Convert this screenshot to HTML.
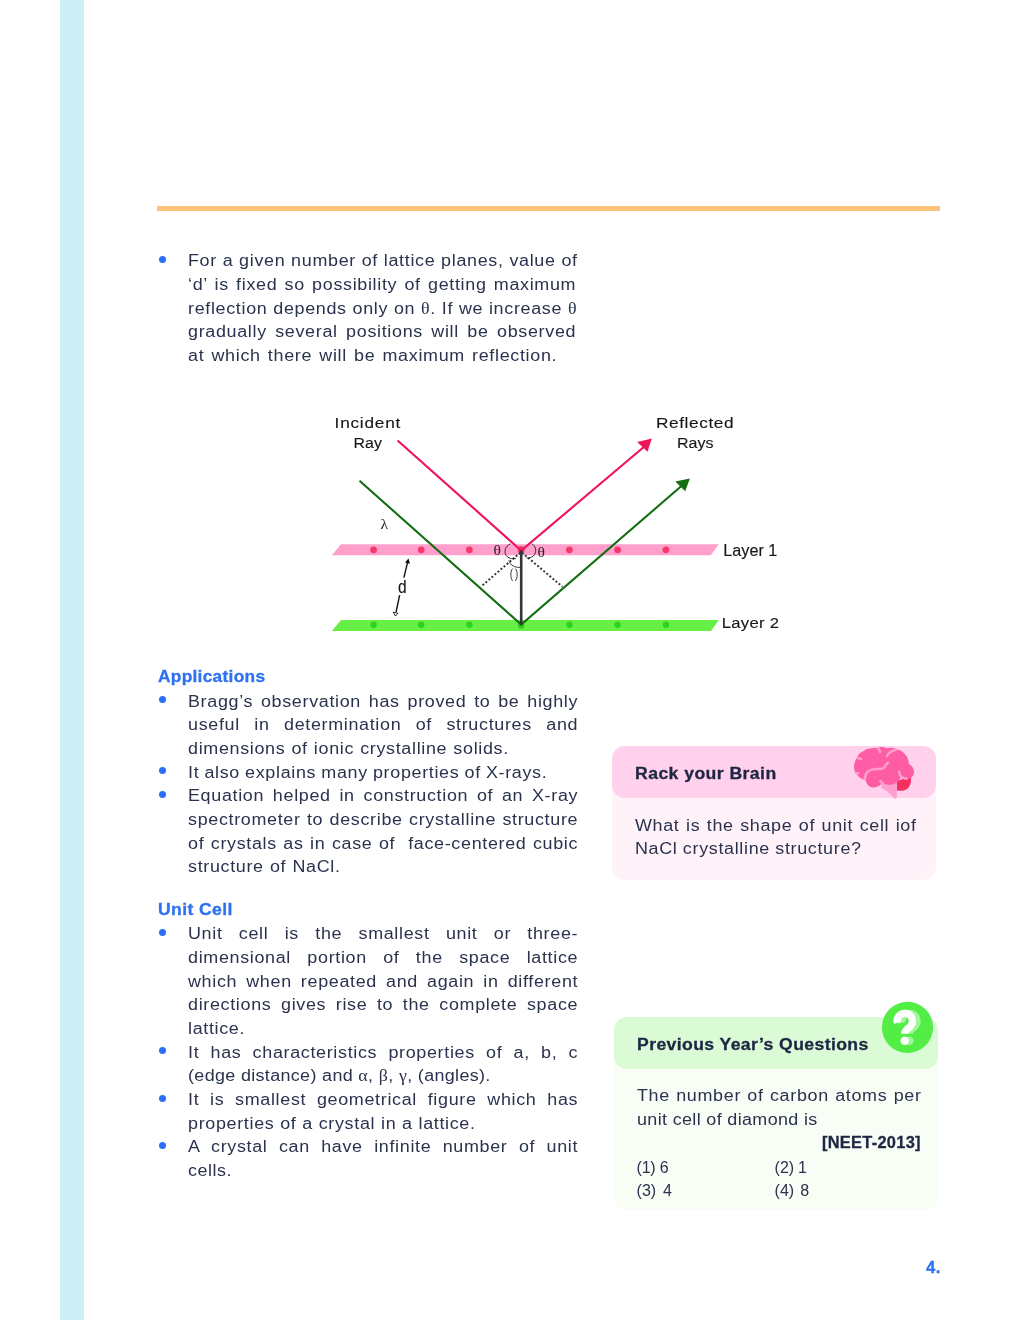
<!DOCTYPE html>
<html><head><meta charset="utf-8"><title>page</title>
<style>
html,body{margin:0;padding:0;background:#fff;}
body{width:1020px;height:1320px;position:relative;overflow:hidden;font-family:"Liberation Sans",sans-serif;}
.l{position:absolute;white-space:pre;line-height:24px;transform-origin:0 50%;}
#tx{position:absolute;left:0;top:0;width:1020px;height:1320px;will-change:transform;}
.g{font-family:"Liberation Serif",serif;}
.b{position:absolute;width:7px;height:7px;border-radius:50%;background:#2a6ff5;}
.strip{position:absolute;left:60px;top:0;width:24px;height:1320px;background:#cdeff6;}
.rule{position:absolute;left:157px;top:206px;width:783px;height:5px;background:#ffc27a;}
.pb{position:absolute;left:612px;top:746px;width:324px;height:134px;border-radius:13px;background:#fff2f9;}
.ph{position:absolute;left:612px;top:746px;width:324px;height:51.5px;border-radius:13px;background:#ffd1ec;}
.gb{position:absolute;left:614px;top:1017px;width:324px;height:192.5px;border-radius:13px;background:#f8fef6;}
  .gh{position:absolute;left:614px;top:1017px;width:324px;height:51.5px;border-radius:13px;background:#dbfbd6;}
svg{position:absolute;overflow:visible;will-change:transform;}
</style></head><body>
<div class="strip"></div><div class="rule"></div>
<div class="pb"></div><div class="ph"></div>
<div class="gb"></div><div class="gh"></div>
<svg id="dia" style="left:0;top:0" width="1020" height="1320" viewBox="0 0 1020 1320">
<polygon points="341,544.2 718.8,544.2 710.8,555.3 331.8,555.3" fill="#ff9fcb"/>
<polygon points="341,620 718.8,620 711,630.9 331.8,630.9" fill="#67ef45"/>
<g fill="#f6386f">
<circle cx="373.6" cy="549.8" r="3.4"/><circle cx="421.2" cy="549.8" r="3.4"/><circle cx="469.4" cy="549.8" r="3.4"/><circle cx="521.2" cy="549.6" r="3.6"/>
<circle cx="569.4" cy="549.8" r="3.4"/><circle cx="617.6" cy="549.8" r="3.4"/><circle cx="665.9" cy="549.8" r="3.4"/>
</g>
<g fill="#2dd31a">
<circle cx="373.6" cy="624.8" r="3.2"/><circle cx="421.2" cy="624.8" r="3.2"/><circle cx="469.4" cy="624.8" r="3.2"/><circle cx="521.2" cy="625.5" r="3.2"/>
<circle cx="569.4" cy="624.8" r="3.2"/><circle cx="617.6" cy="624.8" r="3.2"/><circle cx="665.9" cy="624.8" r="3.2"/>
</g>
<g stroke="#3a3a3a" stroke-width="2" stroke-dasharray="2 2" fill="none">
<line x1="520.3" y1="552.6" x2="480.8" y2="586.8"/><line x1="522" y1="552.6" x2="562.5" y2="586.8"/>
</g>
<polyline points="397.6,440.5 521.2,550.6 645,446" fill="none" stroke="#f0145a" stroke-width="2.2" stroke-linejoin="miter"/>
<polygon points="651.8,438.4 637.2,441.9 647.5,451.8" fill="#f0145a"/>
<polyline points="359.5,480.7 521.2,624.5 682,485.5" fill="none" stroke="#156f12" stroke-width="2.2"/>
<polygon points="689.9,478.4 675.3,481.6 685.2,491.3" fill="#156f12"/>
<line x1="521.2" y1="551.6" x2="521.2" y2="625" stroke="#33363a" stroke-width="2.6"/>
<circle cx="521.2" cy="552" r="1.8" fill="#33363a"/>
<g fill="none" stroke="#222" stroke-width="0.9">
<path d="M510.6,543.8 C504.5,546 503.5,553 507,556.5 C509.5,558.8 513,559 515.9,558.5"/>
<path d="M531.8,543.8 C536.5,546.5 536.8,552.5 533.5,555.8 C531.5,557.6 528.8,558.2 526.5,557.9"/>
<path d="M508.8,560.6 C510.5,565.5 515,567.8 520.3,567.3"/>
<path d="M512.6,568.6 C510.2,571.5 510.2,578 512.6,580.9"/><path d="M515.4,568.6 C517.8,571.5 517.8,578 515.4,580.9"/>

</g>
<g stroke="#111" stroke-width="1.4" fill="none"><line x1="403.9" y1="577.6" x2="408" y2="560.6"/><line x1="399.6" y1="595.2" x2="396.1" y2="612"/></g>
<polygon points="408.5,558.6 405,562.6 410,563.8" fill="#111"/>
<polygon points="395.5,616 393.2,612.2 397.9,613.2" fill="#fff" stroke="#111" stroke-width="0.9"/>
<g font-family="Liberation Serif, serif" fill="#222">
<text x="493.6" y="555.2" font-size="15.5">θ</text>
<text x="537.6" y="557" font-size="15.5">θ</text>

<text x="380.4" y="528.8" font-size="15.5">λ</text>
</g>
<g font-family="Liberation Sans, sans-serif" fill="#161616" stroke="#161616"><text transform="translate(334.6 428.0) scale(1.1200 1)" font-size="15.4" textLength="58.66" lengthAdjust="spacing" stroke-width="0.12">Incident</text>
<text transform="translate(353.6 447.9) scale(1.0338 1)" font-size="15.4" textLength="27.37" lengthAdjust="spacing" stroke-width="0.12">Ray</text>
<text transform="translate(656.0 428.0) scale(1.1200 1)" font-size="15.4" textLength="69.29" lengthAdjust="spacing" stroke-width="0.12">Reflected</text>
<text transform="translate(677.0 447.9) scale(1.0377 1)" font-size="15.4" textLength="35.08" lengthAdjust="spacing" stroke-width="0.12">Rays</text>
<text transform="translate(723.3 555.8) scale(1.0246 1)" font-size="15.8" textLength="52.70" lengthAdjust="spacing" stroke-width="0.15">Layer 1</text>
<text transform="translate(721.8 627.9) scale(1.1200 1)" font-size="14.9" textLength="51.07" lengthAdjust="spacing" stroke-width="0.1">Layer 2</text>
<text transform="translate(397.9 592.8) scale(0.8695 1)" font-size="17.8" textLength="9.89" lengthAdjust="spacing" stroke-width="0.15">d</text>
</g>
</svg>

<svg id="brain" style="left:840px;top:735px" width="90" height="75" viewBox="0 0 1020 850">
<path d="M645,520 L800,470 C815,520 800,590 745,620 C715,635 680,635 645,630 Z" fill="#f5305f"/>
<path d="M470,540 L645,520 L645,705 C640,722 622,726 610,715 L530,635 L470,600 Z" fill="#ff9fcf"/>
<path d="M200,250 C205,215 240,190 270,180 C295,160 330,148 365,150 C385,142 410,142 428,150 C445,135 490,128 525,150 C550,142 600,140 640,162 C670,165 705,180 728,210 C760,235 780,280 780,328 C815,345 845,385 838,430 C832,470 800,497 750,500 C725,500 702,492 688,480 C676,520 640,555 590,562 C550,568 505,562 472,548 C452,585 400,602 358,592 C320,582 294,550 292,510 C255,505 215,482 192,450 C170,425 155,385 160,345 C165,305 180,270 200,250 Z" fill="#ff5ca6"/>
<g fill="none" stroke="#ff9dcb" stroke-width="29" stroke-linecap="round">
<path d="M280,498 C285,430 330,388 400,385 C440,383 480,392 500,370 C520,350 515,325 545,315"/>
<path d="M432,152 C445,165 452,180 455,192"/>
<path d="M532,240 C545,205 585,180 635,168"/>
<path d="M670,418 C672,455 700,490 755,495"/>
<path d="M458,522 C465,535 478,545 490,550"/>
<path d="M208,266 L238,270"/>
<path d="M182,430 L208,436"/>
</g>
</svg>

<svg id="qm" style="left:860px;top:990px" width="90" height="75" viewBox="0 0 90 75">
<circle cx="47.5" cy="37.4" r="25.6" fill="#52ee45"/>
<g transform="translate(4.6,0)" stroke="#a2f59a" fill="#a2f59a">
<path d="M37.3,32.9 A7.7,7.7 0 1 1 50.4,36.3 C47.6,39 44.7,40.2 44.7,43.8" fill="none" stroke-width="7.2"/>
<circle cx="44.7" cy="50.7" r="4.2" stroke="none"/>
</g>
<g stroke="#fff" fill="#fff">
<path d="M37.3,32.9 A7.7,7.7 0 1 1 50.4,36.3 C47.6,39 44.7,40.2 44.7,43.8" fill="none" stroke-width="7.2"/>
<circle cx="44.7" cy="50.7" r="4.2" stroke="none"/>
</g>
</svg>

<div id="tx">
<div class='l' style='left:188.0px;top:249.46px;font-size:16.0px;font-weight:normal;color:#2a324e;letter-spacing:0.6px;transform:scaleX(1.12);word-spacing:0.129px;'>For a given number of lattice planes, value of</div>
<div class='l' style='left:188.0px;top:273.16px;font-size:16.0px;font-weight:normal;color:#2a324e;letter-spacing:0.6px;transform:scaleX(1.12);word-spacing:1.445px;'>‘d’ is fixed so possibility of getting maximum</div>
<div class='l' style='left:188.0px;top:296.76px;font-size:16.0px;font-weight:normal;color:#2a324e;letter-spacing:0.6px;transform:scaleX(1.12);word-spacing:0.155px;'>reflection depends only on <span class='g'>θ</span>. If we increase <span class='g'>θ</span></div>
<div class='l' style='left:188.0px;top:320.46px;font-size:16.0px;font-weight:normal;color:#2a324e;letter-spacing:0.6px;transform:scaleX(1.12);word-spacing:2.491px;'>gradually several positions will be observed</div>
<div class='l' style='left:188.0px;top:344.06px;font-size:16.0px;font-weight:normal;color:#2a324e;letter-spacing:0.6px;transform:scaleX(1.12);word-spacing:1.384px;'>at which there will be maximum reflection.</div>
<div class='l' style='left:188.0px;top:689.66px;font-size:16.0px;font-weight:normal;color:#2a324e;letter-spacing:0.6px;transform:scaleX(1.12);word-spacing:1.923px;'>Bragg’s observation has proved to be highly</div>
<div class='l' style='left:188.0px;top:713.36px;font-size:16.0px;font-weight:normal;color:#2a324e;letter-spacing:0.6px;transform:scaleX(1.12);word-spacing:7.833px;'>useful in determination of structures and</div>
<div class='l' style='left:188.0px;top:736.96px;font-size:16.0px;font-weight:normal;color:#2a324e;letter-spacing:0.6px;transform:scaleX(1.12);word-spacing:0.408px;'>dimensions of ionic crystalline solids.</div>
<div class='l' style='left:188.0px;top:760.66px;font-size:16.0px;font-weight:normal;color:#2a324e;letter-spacing:0.6px;transform:scaleX(1.12);word-spacing:-0.475px;'>It also explains many properties of X-rays.</div>
<div class='l' style='left:188.0px;top:784.26px;font-size:16.0px;font-weight:normal;color:#2a324e;letter-spacing:0.6px;transform:scaleX(1.12);word-spacing:2.764px;'>Equation helped in construction of an X-ray</div>
<div class='l' style='left:188.0px;top:807.96px;font-size:16.0px;font-weight:normal;color:#2a324e;letter-spacing:0.6px;transform:scaleX(1.12);word-spacing:0.604px;'>spectrometer to describe crystalline structure</div>
<div class='l' style='left:188.0px;top:831.56px;font-size:16.0px;font-weight:normal;color:#2a324e;letter-spacing:0.6px;transform:scaleX(1.12);word-spacing:0.743px;'>of crystals as in case of  face-centered cubic</div>
<div class='l' style='left:188.0px;top:855.26px;font-size:16.0px;font-weight:normal;color:#2a324e;letter-spacing:0.6px;transform:scaleX(1.12);word-spacing:0.509px;'>structure of NaCl.</div>
<div class='l' style='left:188.0px;top:922.36px;font-size:16.0px;font-weight:normal;color:#2a324e;letter-spacing:0.6px;transform:scaleX(1.12);word-spacing:9.499px;'>Unit cell is the smallest unit or three-</div>
<div class='l' style='left:188.0px;top:946.06px;font-size:16.0px;font-weight:normal;color:#2a324e;letter-spacing:0.6px;transform:scaleX(1.12);word-spacing:9.552px;'>dimensional portion of the space lattice</div>
<div class='l' style='left:188.0px;top:969.66px;font-size:16.0px;font-weight:normal;color:#2a324e;letter-spacing:0.6px;transform:scaleX(1.12);word-spacing:3.059px;'>which when repeated and again in different</div>
<div class='l' style='left:188.0px;top:993.36px;font-size:16.0px;font-weight:normal;color:#2a324e;letter-spacing:0.6px;transform:scaleX(1.12);word-spacing:3.512px;'>directions gives rise to the complete space</div>
<div class='l' style='left:188.0px;top:1016.96px;font-size:16.0px;font-weight:normal;color:#2a324e;letter-spacing:0.587px;transform:scaleX(1.12);'>lattice.</div>
<div class='l' style='left:188.0px;top:1040.66px;font-size:16.0px;font-weight:normal;color:#2a324e;letter-spacing:0.6px;transform:scaleX(1.12);word-spacing:4.961px;'>It has characteristics properties of a, b, c</div>
<div class='l' style='left:188.0px;top:1064.26px;font-size:16.0px;font-weight:normal;color:#2a324e;letter-spacing:0.311px;transform:scaleX(1.12);'>(edge distance) and <span class='g'>α</span>, <span class='g'>β</span>, <span class='g'>γ</span>, (angles).</div>
<div class='l' style='left:188.0px;top:1087.96px;font-size:16.0px;font-weight:normal;color:#2a324e;letter-spacing:0.6px;transform:scaleX(1.12);word-spacing:4.556px;'>It is smallest geometrical figure which has</div>
<div class='l' style='left:188.0px;top:1111.66px;font-size:16.0px;font-weight:normal;color:#2a324e;letter-spacing:0.6px;transform:scaleX(1.12);word-spacing:0.126px;'>properties of a crystal in a lattice.</div>
<div class='l' style='left:188.0px;top:1135.26px;font-size:16.0px;font-weight:normal;color:#2a324e;letter-spacing:0.6px;transform:scaleX(1.12);word-spacing:5.128px;'>A crystal can have infinite number of unit</div>
<div class='l' style='left:188.0px;top:1158.96px;font-size:16.0px;font-weight:normal;color:#2a324e;letter-spacing:0.493px;transform:scaleX(1.12);'>cells.</div>
<div class='l' style='left:635.0px;top:813.86px;font-size:16.0px;font-weight:normal;color:#2a324e;letter-spacing:0.6px;transform:scaleX(1.12);word-spacing:0.740px;'>What is the shape of unit cell iof</div>
<div class='l' style='left:635.0px;top:836.86px;font-size:16.0px;font-weight:normal;color:#2a324e;letter-spacing:0.6px;transform:scaleX(1.12);word-spacing:-0.276px;'>NaCl crystalline structure?</div>
<div class='l' style='left:637.3px;top:1084.26px;font-size:16.0px;font-weight:normal;color:#2a324e;letter-spacing:0.6px;transform:scaleX(1.12);word-spacing:0.613px;'>The number of carbon atoms per</div>
<div class='l' style='left:637.3px;top:1107.66px;font-size:16.0px;font-weight:normal;color:#2a324e;letter-spacing:0.323px;transform:scaleX(1.12);'>unit cell of diamond is</div>
<div class='l' style='-webkit-text-stroke:0.3px;left:158.2px;top:664.86px;font-size:16px;font-weight:bold;color:#2d72f0;letter-spacing:0.270px;transform:scaleX(1.0810);'>Applications</div>
<div class='l' style='-webkit-text-stroke:0.3px;left:158.2px;top:898.16px;font-size:16px;font-weight:bold;color:#2d72f0;letter-spacing:0.343px;transform:scaleX(1.1000);'>Unit Cell</div>
<div class='l' style='-webkit-text-stroke:0.3px;left:635.3px;top:762.26px;font-size:16px;font-weight:bold;color:#1f2643;letter-spacing:0.403px;transform:scaleX(1.1000);'>Rack your Brain</div>
<div class='l' style='-webkit-text-stroke:0.3px;left:637.0px;top:1033.16px;font-size:16px;font-weight:bold;color:#1f2643;letter-spacing:0.362px;transform:scaleX(1.1000);'>Previous Year’s Questions</div>
<div class='l' style='-webkit-text-stroke:0.3px;left:821.7px;top:1131.06px;font-size:16px;font-weight:bold;color:#1f2643;letter-spacing:0.289px;transform:scaleX(1.0232);'>[NEET-2013]</div>
<div class='l' style='-webkit-text-stroke:0.3px;left:925.9px;top:1255.76px;font-size:16px;font-weight:bold;color:#2d72f0;letter-spacing:0.413px;transform:scaleX(1.0468);'>4.</div>
<div class='l' style='left:636.6px;top:1155.76px;font-size:16.0px;font-weight:normal;color:#2a324e;letter-spacing:-0.227px;transform:scaleX(1.0);'>(1) 6</div>
<div class='l' style='left:774.6px;top:1155.76px;font-size:16.0px;font-weight:normal;color:#2a324e;letter-spacing:0.0px;transform:scaleX(1.0);word-spacing:-0.506px;'>(2) 1</div>
<div class='l' style='left:636.6px;top:1179.06px;font-size:16.0px;font-weight:normal;color:#2a324e;letter-spacing:0.0px;transform:scaleX(1.0);word-spacing:2.294px;'>(3) 4</div>
<div class='l' style='left:774.6px;top:1179.06px;font-size:16.0px;font-weight:normal;color:#2a324e;letter-spacing:0.0px;transform:scaleX(1.0);word-spacing:1.694px;'>(4) 8</div>
<div class='b' style='left:158.8px;top:256.0px'></div>
<div class='b' style='left:158.8px;top:696.2px'></div>
<div class='b' style='left:158.8px;top:767.2px'></div>
<div class='b' style='left:158.8px;top:790.8px'></div>
<div class='b' style='left:158.8px;top:928.9px'></div>
<div class='b' style='left:158.8px;top:1047.2px'></div>
<div class='b' style='left:158.8px;top:1094.5px'></div>
<div class='b' style='left:158.8px;top:1141.8px'></div>
</div>
</body></html>
